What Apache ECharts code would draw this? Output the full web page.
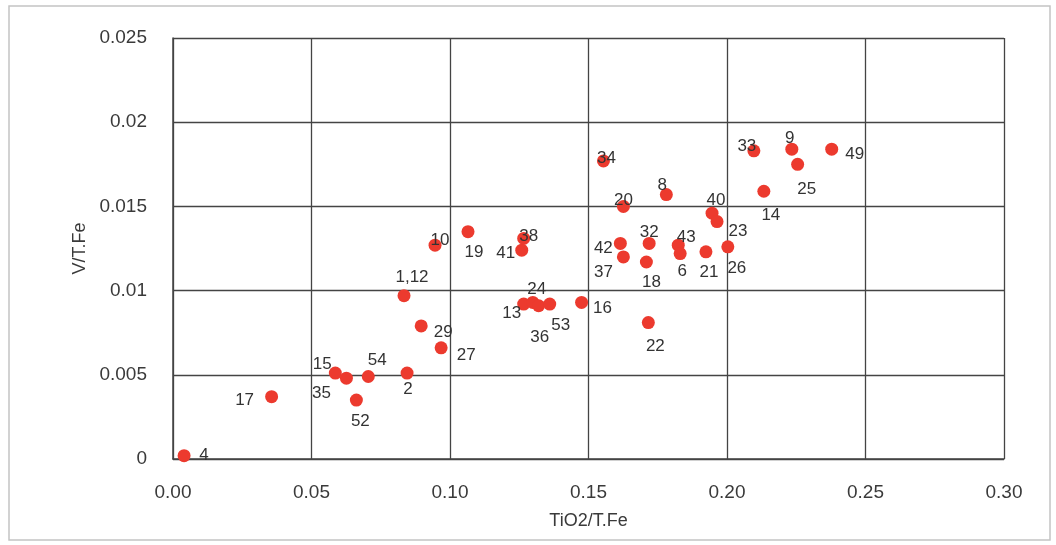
<!DOCTYPE html>
<html><head><meta charset="utf-8">
<script src="https://cdn.jsdelivr.net/npm/echarts@6/dist/echarts.min.js"></script>
<style>html,body{margin:0;padding:0;background:#fff}#c{width:1056px;height:545px}</style>
</head><body><div id="c"></div>
<script>
// sample numbers
const sampleIds = ['4','17','15','35','52','54','2','1,12','29','27','10','19','41','38','13','24','36','53','16','34','20','42','37','32','18','22','8','43','6','21','40','23','26','33','14','9','25','49'];
// TiO2/T.Fe
const tio2Fe = [0.004,0.0356,0.0586,0.0626,0.0662,0.0705,0.0845,0.0834,0.0896,0.0968,0.0946,0.1065,0.1259,0.1266,0.1266,0.1299,0.1320,0.1360,0.1475,0.1554,0.1626,0.1615,0.1626,0.1719,0.1709,0.1716,0.1781,0.1824,0.1831,0.1924,0.1946,0.1964,0.2003,0.2097,0.2133,0.2234,0.2255,0.2378];
// V/T.Fe
const vFe = [0.0002,0.0037,0.0051,0.0048,0.0035,0.0049,0.0051,0.0097,0.0079,0.0066,0.0127,0.0135,0.0124,0.0131,0.0092,0.0093,0.0091,0.0092,0.0093,0.0177,0.0150,0.0128,0.0120,0.0128,0.0117,0.0081,0.0157,0.0127,0.0122,0.0123,0.0146,0.0141,0.0126,0.0183,0.0159,0.0184,0.0175,0.0184];

// label placement (pixel offsets of the label centre from the dot centre)
const labelOffsets = {
  '4':[20,0],'17':[-27,4],'15':[-13,-9],'35':[-25,15],'52':[4,21],'54':[9,-16],'2':[1,16],
  '1,12':[8,-18],'29':[22,6],'27':[25,7],'10':[5,-5],'19':[6,21],'41':[-16,3],'38':[5,-2],
  '13':[-12,9],'24':[4,-13],'36':[1,32],'53':[11,21],'16':[21,6],'34':[3,-3],'20':[0,-6],
  '8':[-4,-9],'40':[4,-13],'23':[21,10],'42':[-17,5],'37':[-20,15],'32':[0,-11],'18':[5,20],
  '43':[8,-8],'6':[2,18],'21':[3,20],'26':[9,21],'22':[7,24],'33':[-7,-5],'9':[-2,-11],
  '49':[23,5],'25':[9,25],'14':[7,24]
};

const FONT = 'Liberation Sans';
const SYM = 13;
const points = sampleIds.map((id, i) => {
  const o = labelOffsets[id] || [0, 0];
  return {
    value: [tio2Fe[i], vFe[i]],
    name: id,
    label: { position: [SYM / 2 + o[0], SYM / 2 + o[1]], align: 'center', verticalAlign: 'middle' }
  };
});

const chart = echarts.init(document.getElementById('c'));
chart.setOption({
  animation: false,
  backgroundColor: '#fff',
  graphic: [{
    type: 'rect', silent: true, z: -10,
    shape: { x: 9, y: 6, width: 1041, height: 534 },
    style: { fill: 'none', stroke: '#c4c4c4', lineWidth: 1.5 }
  }],
  grid: { left: 173, right: 52, top: 38, bottom: 86 },
  xAxis: {
    type: 'value', min: 0, max: 0.30, interval: 0.05,
    name: 'TiO2/T.Fe', nameLocation: 'middle', nameGap: 53,
    nameTextStyle: { fontFamily: FONT, fontSize: 18, color: '#3a3a3a' },
    axisLine: { show: true, lineStyle: { color: '#444', width: 1.5 } },
    axisTick: { show: false },
    axisLabel: { fontFamily: FONT, fontSize: 19, color: '#3a3a3a', margin: 24,
      formatter: v => v.toFixed(2) },
    splitLine: { show: true, lineStyle: { color: '#444', width: 1.3 } }
  },
  yAxis: {
    type: 'value', min: 0, max: 0.025, interval: 0.005,
    name: 'V/T.Fe', nameLocation: 'middle', nameGap: 50, nameRotate: 90,
    nameTextStyle: { fontFamily: FONT, fontSize: 18, color: '#3a3a3a' },
    axisLine: { show: true, lineStyle: { color: '#444', width: 1.5 } },
    axisTick: { show: false },
    axisLabel: { fontFamily: FONT, fontSize: 19, color: '#3a3a3a', margin: 26,
      formatter: v => String(parseFloat(v.toFixed(3))) },
    splitLine: { show: true, lineStyle: { color: '#444', width: 1.3 } }
  },
  series: [{
    type: 'scatter',
    data: points,
    symbol: 'circle',
    symbolSize: SYM,
    itemStyle: { color: '#ec3a2e', opacity: 1 },
    label: {
      show: true, formatter: p => p.name,
      fontFamily: FONT, fontSize: 17, color: '#333'
    },
    labelLayout: { hideOverlap: false }
  }]
});
</script>
</body></html>
